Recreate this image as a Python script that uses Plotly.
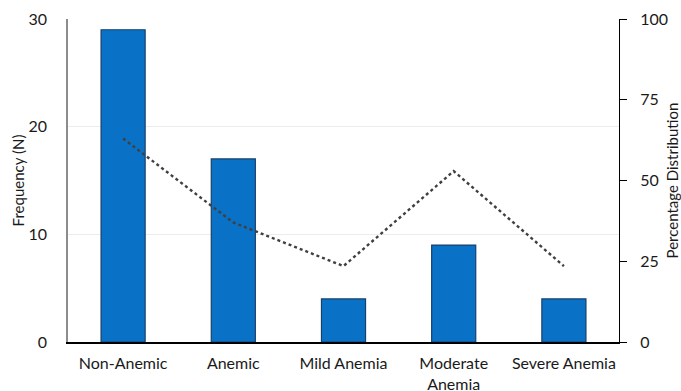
import plotly.graph_objects as go

categories = ["Non-Anemic", "Anemic", "Mild Anemia", "Moderate<br>Anemia", "Severe Anemia"]
frequency = [29, 17, 4, 9, 4]
percentage = [63.0, 37.0, 23.5, 52.9, 23.5]

left_ticks = [0, 10, 20, 30]
right_ticks = [0, 25, 50, 75, 100]

FONT = "Lato"
TXT = "#1a1a1a"

fig = go.Figure()

fig.add_trace(go.Bar(
    x=categories, y=frequency, yaxis="y",
    width=0.4,
    marker=dict(color="#0A72C6", line=dict(color="#17406B", width=1.2)),
    showlegend=False,
))

fig.add_trace(go.Scatter(
    x=categories, y=percentage, yaxis="y2",
    mode="lines",
    line=dict(color="#404040", width=2.4, dash="dot"),
    showlegend=False,
))

fig.update_layout(
    width=681, height=391,
    margin=dict(l=68, r=62, t=19, b=49),
    paper_bgcolor="white", plot_bgcolor="white",
    font=dict(family=FONT, size=16, color=TXT),
    bargap=0.6,
    xaxis=dict(
        showline=True, linecolor="#000000", linewidth=1.5,
        ticks="", showgrid=False, automargin=False,
        ticklabelstandoff=6,
        tickfont=dict(family=FONT, size=16, color=TXT),
    ),
    yaxis=dict(
        range=[0, 30], tickvals=left_ticks,
        showline=True, linecolor="#8C8C8C", linewidth=1.5,
        showgrid=True, gridcolor="#ECECEC", gridwidth=1,
        zeroline=False, ticks="", automargin=False,
        ticklabelstandoff=16,
        tickfont=dict(family=FONT, size=16, color=TXT),
        title=dict(text="Frequency (N)", font=dict(family=FONT, size=15, color=TXT), standoff=0),
    ),
    yaxis2=dict(
        range=[0, 100], tickvals=right_ticks,
        overlaying="y", side="right",
        showline=True, linecolor="#000000", linewidth=1.2,
        showgrid=False, zeroline=False, automargin=False,
        ticks="outside", ticklen=7, tickcolor="#000000", tickwidth=1.2,
        ticklabelstandoff=10,
        tickfont=dict(family=FONT, size=16, color=TXT),
        title=dict(text="Percentage Distribution", font=dict(family=FONT, size=15, color=TXT), standoff=16),
    ),
)

fig.write_html("out.html")
